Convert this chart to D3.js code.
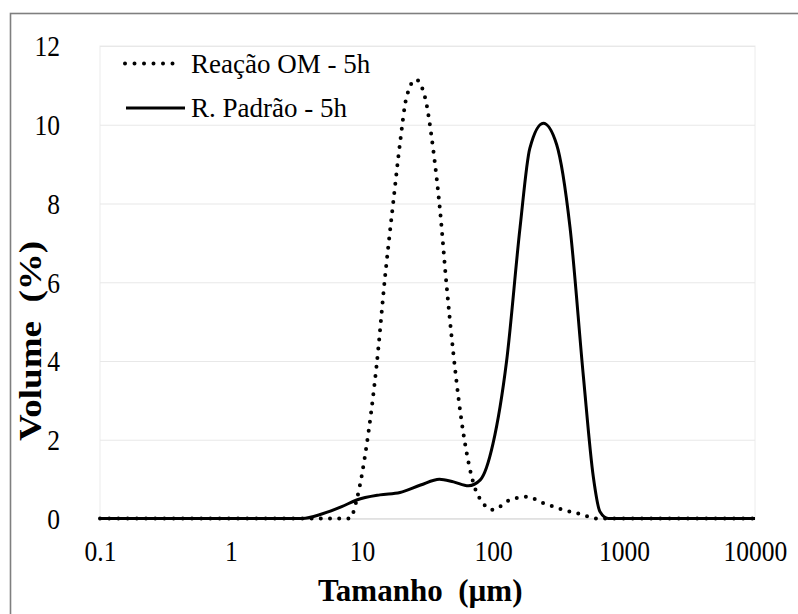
<!DOCTYPE html>
<html><head><meta charset="utf-8">
<script src="https://cdn.jsdelivr.net/npm/d3@7"></script>
<style>body{margin:0;background:#fff}svg{display:block}</style>
</head><body><svg id="c" width="798" height="614"></svg>
<script>
const seriesNames = ["Reação OM - 5h", "R. Padrão - 5h"];
const sizesOM = [0.1, 4.5, 8.1, 9.1, 10.9, 12.9, 15.0, 17.4, 19.5, 21.9, 25.8, 30.2, 35, 39.4, 44.3, 49.8, 56, 63, 71, 84, 100, 134, 181, 242, 345, 490, 600, 10000];
const volOM   = [0, 0, 0, 0.47, 1.91, 3.86, 6.14, 8.09, 9.53, 10.71, 11.15, 10.71, 9.36, 7.83, 5.89, 4.2, 2.76, 1.66, 0.89, 0.39, 0.22, 0.47, 0.55, 0.39, 0.22, 0.09, 0, 0];
const sizesRP = [0.1, 3.5, 5, 7, 9.1, 13.7, 19.5, 28, 39, 50, 65, 80, 100, 127, 161, 191, 242, 306, 387, 490, 583, 656, 758, 10000];
const volRP   = [0, 0, 0.12, 0.3, 0.47, 0.6, 0.66, 0.85, 1.0, 0.93, 0.83, 0.98, 1.9, 4.0, 7.4, 9.4, 10.04, 9.5, 7.4, 3.6, 1.06, 0.17, 0, 0];
const xTicks = [0.1, 1, 10, 100, 1000, 10000];
const xTickLabels = ["0.1", "1", "10", "100", "1000", "10000"];
const yTicks = [0, 2, 4, 6, 8, 10, 12];
const xTitle = "Tamanho  (µm)";
const yTitle = "Volume  (%)";

const svg = d3.select("#c");
const L = 100, R = 755, T = 46, B = 518.5;
const x = d3.scaleLog().domain([0.1, 10000]).range([L, R]);
const y = d3.scaleLinear().domain([0, 12]).range([B, T]);
const serif = "'Liberation Serif','Times New Roman',serif";

// outer frame
svg.append("rect").attr("x", 10.5).attr("y", 13.5).attr("width", 820).attr("height", 640)
  .attr("fill", "#fff").attr("stroke", "#7f7f7f").attr("stroke-width", 1.6);

// plot area border (light)
svg.append("rect").attr("x", L).attr("y", T).attr("width", R - L).attr("height", B - T)
  .attr("fill", "none").attr("stroke", "#ececec").attr("stroke-width", 1);

// y axis with gridlines
const gy = svg.append("g").attr("transform", `translate(${L},0)`)
  .call(d3.axisLeft(y).tickValues(yTicks).tickSize(-(R - L)).tickPadding(40).tickFormat(d3.format("d")));
gy.select(".domain").remove();
gy.selectAll(".tick line").attr("stroke", "#e8e8e8").attr("stroke-width", 1.2);
gy.selectAll(".tick text")
  .attr("x", 0).attr("dy", "0.34em")
  .attr("transform", "translate(-40,0) scale(0.88,1)")
  .attr("fill", "#000").style("font-family", serif).style("font-size", "29px");

// x axis
const gx = svg.append("g").attr("transform", `translate(0,${B})`)
  .call(d3.axisBottom(x).tickValues(xTicks).tickSize(0).tickFormat((d, i) => xTickLabels[i]));
gx.select(".domain").attr("stroke", "#d9d9d9");
gx.selectAll(".tick text")
  .attr("y", 0).attr("dy", null)
  .attr("transform", "translate(0,42.5) scale(0.88,1)")
  .attr("fill", "#000").style("font-family", serif).style("font-size", "29px");

// lines
const line = d3.line().x(d => x(d[0])).y(d => y(d[1])).curve(d3.curveMonotoneX);
const dataOM = sizesOM.map((s, i) => [s, volOM[i]]);
const dataRP = sizesRP.map((s, i) => [s, volRP[i]]);

svg.append("path").datum(dataRP).attr("d", line)
  .attr("fill", "none").attr("stroke", "#000").attr("stroke-width", 3).attr("stroke-linejoin", "round");
svg.append("path").datum(dataOM).attr("d", line)
  .attr("fill", "none").attr("stroke", "#000").attr("stroke-width", 4)
  .attr("stroke-linecap", "round").attr("stroke-dasharray", "0 9.2");

// legend
const lg = svg.append("g");
lg.append("line").attr("x1", 125).attr("x2", 182).attr("y1", 63.5).attr("y2", 63.5)
  .attr("stroke", "#000").attr("stroke-width", 4).attr("stroke-linecap", "round").attr("stroke-dasharray", "0 9.5");
lg.append("text").attr("x", 191).attr("y", 72.5).text(seriesNames[0])
  .style("font-family", serif).style("font-size", "27px").attr("fill", "#000");
lg.append("line").attr("x1", 126).attr("x2", 185).attr("y1", 108).attr("y2", 108)
  .attr("stroke", "#000").attr("stroke-width", 3);
lg.append("text").attr("x", 191).attr("y", 117).text(seriesNames[1])
  .style("font-family", serif).style("font-size", "27px").attr("fill", "#000");

// axis titles
svg.append("text").attr("x", 318).attr("y", 601).attr("text-anchor", "start")
  .style("font-family", serif).style("font-size", "31px").style("font-weight", "bold")
  .style("white-space", "pre").attr("fill", "#000").text(xTitle);
svg.append("text").attr("transform", "translate(41,441) rotate(-90) scale(1,0.88)").attr("text-anchor", "start")
  .style("font-family", serif).style("font-size", "37px").style("font-weight", "bold")
  .style("white-space", "pre").attr("fill", "#000").text(yTitle);
</script>
</body></html>
